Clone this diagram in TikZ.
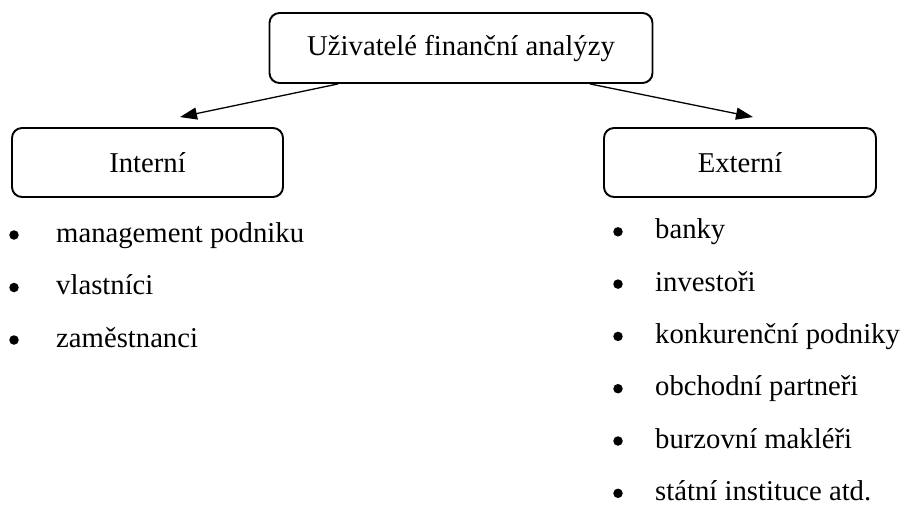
\documentclass[tikz,border=0pt]{standalone}
\usepackage{fontspec}
\setmainfont{Liberation Serif}
\usepackage{tikz}
\usetikzlibrary{arrows.meta}
\usetikzlibrary{positioning}

\begin{document}
\begin{tikzpicture}[x=1pt,y=-1pt,font=\fontsize{28.7}{34}\selectfont]
  \tikzset{ubox/.style = {shape=rectangle,draw,rounded corners=10pt,line width=1.9pt,inner sep=0pt}}
  \tikzset{bul/.style = {shape=circle,fill,minimum size=9.5pt,inner sep=0pt}}
  \tikzset{item/.style = {anchor=base west,inner sep=0pt}}
  \tikzset{%
  tipA/.tip={Triangle[length=17pt,width=12pt]},
}
  \useasboundingbox (0,0) rectangle (911,504);

	\node[ubox,minimum width=383pt,minimum height=70pt] (UF) at (461,48) {Uživatelé finanční analýzy};
	\node[ubox,minimum width=271pt,minimum height=69pt] (IN) at (147.5,162.5) {Interní};
	\node[ubox,minimum width=272pt,minimum height=69pt] (EX) at (740,162.5) {Externí};

	\coordinate (UFl) at ([xshift=-123pt]UF.south);
	\coordinate (UFr) at ([xshift=129pt]UF.south);
	\coordinate (INt) at ([xshift=32.5pt,yshift=10pt]IN.north);
	\coordinate (EXt) at ([xshift=13pt,yshift=10pt]EX.north);

    \foreach \from/\to in {UFl/INt, UFr/EXt}
    \path[-tipA,line width=1.3pt](\from) edge (\to);

    \foreach \txt [count=\i] in {management podniku, vlastníci, zaměstnanci}
    {
    \node[bul] (IB\i) at (14,182.5+52.5*\i) {};
    \node[item] (IT\i) at (56,189.5+52.5*\i) {\txt};
    }

    \foreach \txt [count=\i] in {banky, investoři, konkurenční podniky, obchodní partneři, burzovní makléři, státní instituce atd.}
    {
    \node[bul] (EB\i) at (618,179.5+52.3*\i) {};
    \node[item] (ET\i) at (655,186.5+52.3*\i) {\txt};
    }

\end{tikzpicture}
\end{document}
